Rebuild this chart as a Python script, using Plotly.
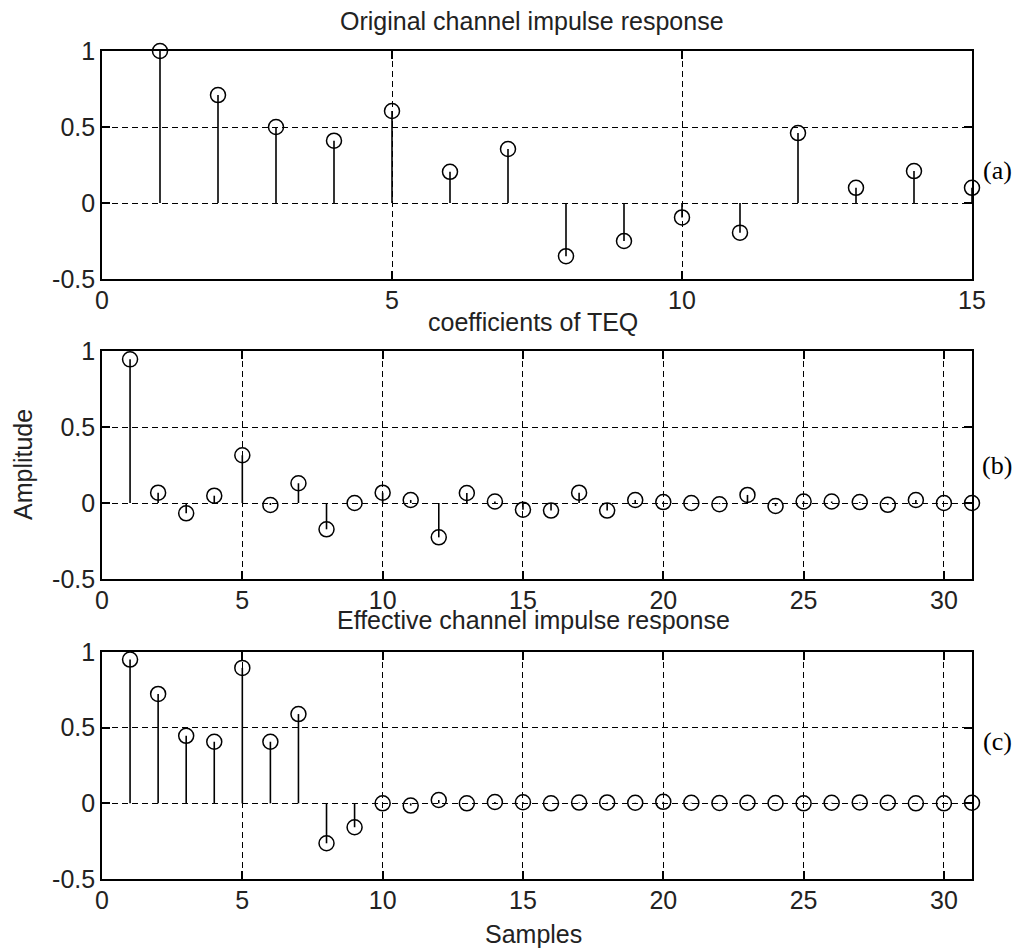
import plotly.graph_objects as go

# ---- data ----
n_orig = list(range(1, 16))
h_orig = [1.0, 0.71, 0.5, 0.41, 0.605, 0.205, 0.355, -0.35, -0.25, -0.095,
          -0.195, 0.46, 0.1, 0.21, 0.1]

n_teq = list(range(1, 32))
w_teq = [0.945, 0.068, -0.068, 0.048, 0.314, -0.013, 0.13, -0.173, 0.0, 0.068,
         0.02, -0.226, 0.066, 0.01, -0.044, -0.05, 0.068, -0.05, 0.02, 0.006,
         0.0, -0.008, 0.053, -0.02, 0.01, 0.01, 0.006, -0.012, 0.02, 0.0, 0.0]

n_eff = list(range(1, 32))
h_eff = [0.95, 0.723, 0.446, 0.407, 0.895, 0.407, 0.59, -0.264, -0.158, 0.0,
         -0.015, 0.022, 0.0, 0.009, 0.007, 0.0, 0.005, 0.006, 0.004, 0.01,
         0.004, 0.002, 0.004, 0.002, 0.0, 0.004, 0.006, 0.004, 0.0, 0.0, 0.004]

y_ticks = [-0.5, 0, 0.5, 1]
y_tick_text = ["-0.5", "0", "0.5", "1"]
x_ticks_a = [0, 5, 10, 15]
x_ticks_bc = [0, 5, 10, 15, 20, 25, 30]

titles = ["Original channel impulse response", "coefficients of TEQ",
          "Effective channel impulse response"]
panel_tags = ["(a)", "(b)", "(c)"]

W, H = 1022, 951
FONT = "Liberation Sans, Arial, sans-serif"
FS = 25


def px_x(x):
    return x / W


def px_y(y):
    return (H - y) / H


# pixel extents of the three axes boxes (top, bottom)
ax_left, ax_right = 102, 972
boxes = [(51, 279), (351, 579), (652, 879)]

fig = go.Figure()


def add_stem(n, v, idx):
    xs, ys = [], []
    for a, b in zip(n, v):
        xs += [a, a, None]
        ys += [0, b, None]
    sfx = "" if idx == 1 else str(idx)
    fig.add_trace(go.Scatter(x=xs, y=ys, mode="lines",
                             line=dict(color="black", width=1.6),
                             xaxis="x" + sfx, yaxis="y" + sfx,
                             hoverinfo="skip", showlegend=False))
    fig.add_trace(go.Scatter(x=n, y=v, mode="markers",
                             marker=dict(symbol="circle-open", size=15,
                                         color="black", line=dict(width=1.5)),
                             xaxis="x" + sfx, yaxis="y" + sfx,
                             cliponaxis=False, showlegend=False))


add_stem(n_orig, h_orig, 1)
add_stem(n_teq, w_teq, 2)
add_stem(n_eff, h_eff, 3)

common_axis = dict(showline=True, linecolor="black", linewidth=1.6,
                   mirror="ticks", ticks="inside", ticklen=8, tickwidth=1.5,
                   tickcolor="black", showgrid=True, gridcolor="black",
                   griddash="6px,4px", gridwidth=1.2, zeroline=False,
                   automargin=False,
                   tickfont=dict(family=FONT, size=FS, color="#222"))

layout = dict(width=W, height=H, margin=dict(l=0, r=0, t=0, b=0),
              paper_bgcolor="white", plot_bgcolor="white", showlegend=False)

ranges_x = [[0, 15], [0, 31], [0, 31]]
ticks_x = [x_ticks_a, x_ticks_bc, x_ticks_bc]
for i, ((top, bot), xr, xt) in enumerate(zip(boxes, ranges_x, ticks_x), start=1):
    sfx = "" if i == 1 else str(i)
    layout["xaxis" + sfx] = dict(common_axis, range=xr, tickvals=xt,
                                 domain=[px_x(ax_left), px_x(ax_right)],
                                 anchor="y" + sfx, ticklabelstandoff=-2)
    layout["yaxis" + sfx] = dict(common_axis, range=[-0.5, 1], tickvals=y_ticks,
                                 ticktext=y_tick_text,
                                 domain=[px_y(bot), px_y(top)],
                                 anchor="x" + sfx, ticklabelstandoff=0)

fig.update_layout(**layout)

# titles, axis labels and panel tags
title_pos = [(532, 21), (533, 322), (533, 620)]
for txt, (cx, cy) in zip(titles, title_pos):
    fig.add_annotation(text=txt, x=px_x(cx), y=px_y(cy), xref="paper",
                       yref="paper", showarrow=False, xanchor="center",
                       yanchor="middle",
                       font=dict(family=FONT, size=FS, color="#222"))

fig.add_annotation(text="Samples", x=px_x(533), y=px_y(934), xref="paper",
                   yref="paper", showarrow=False, xanchor="center",
                   yanchor="middle", font=dict(family=FONT, size=FS, color="#222"))
fig.add_annotation(text="Amplitude", x=px_x(23), y=px_y(465), xref="paper",
                   yref="paper", showarrow=False, textangle=-90,
                   xanchor="center", yanchor="middle",
                   font=dict(family=FONT, size=FS, color="#222"))

tag_pos = [(997, 170), (997, 466), (997, 741)]
for txt, (cx, cy) in zip(panel_tags, tag_pos):
    fig.add_annotation(text=txt, x=px_x(cx), y=px_y(cy), xref="paper",
                       yref="paper", showarrow=False, xanchor="center",
                       yanchor="middle",
                       font=dict(family="Liberation Serif, Times New Roman, serif",
                                 size=26, color="black"))

fig.write_html("out.html")
